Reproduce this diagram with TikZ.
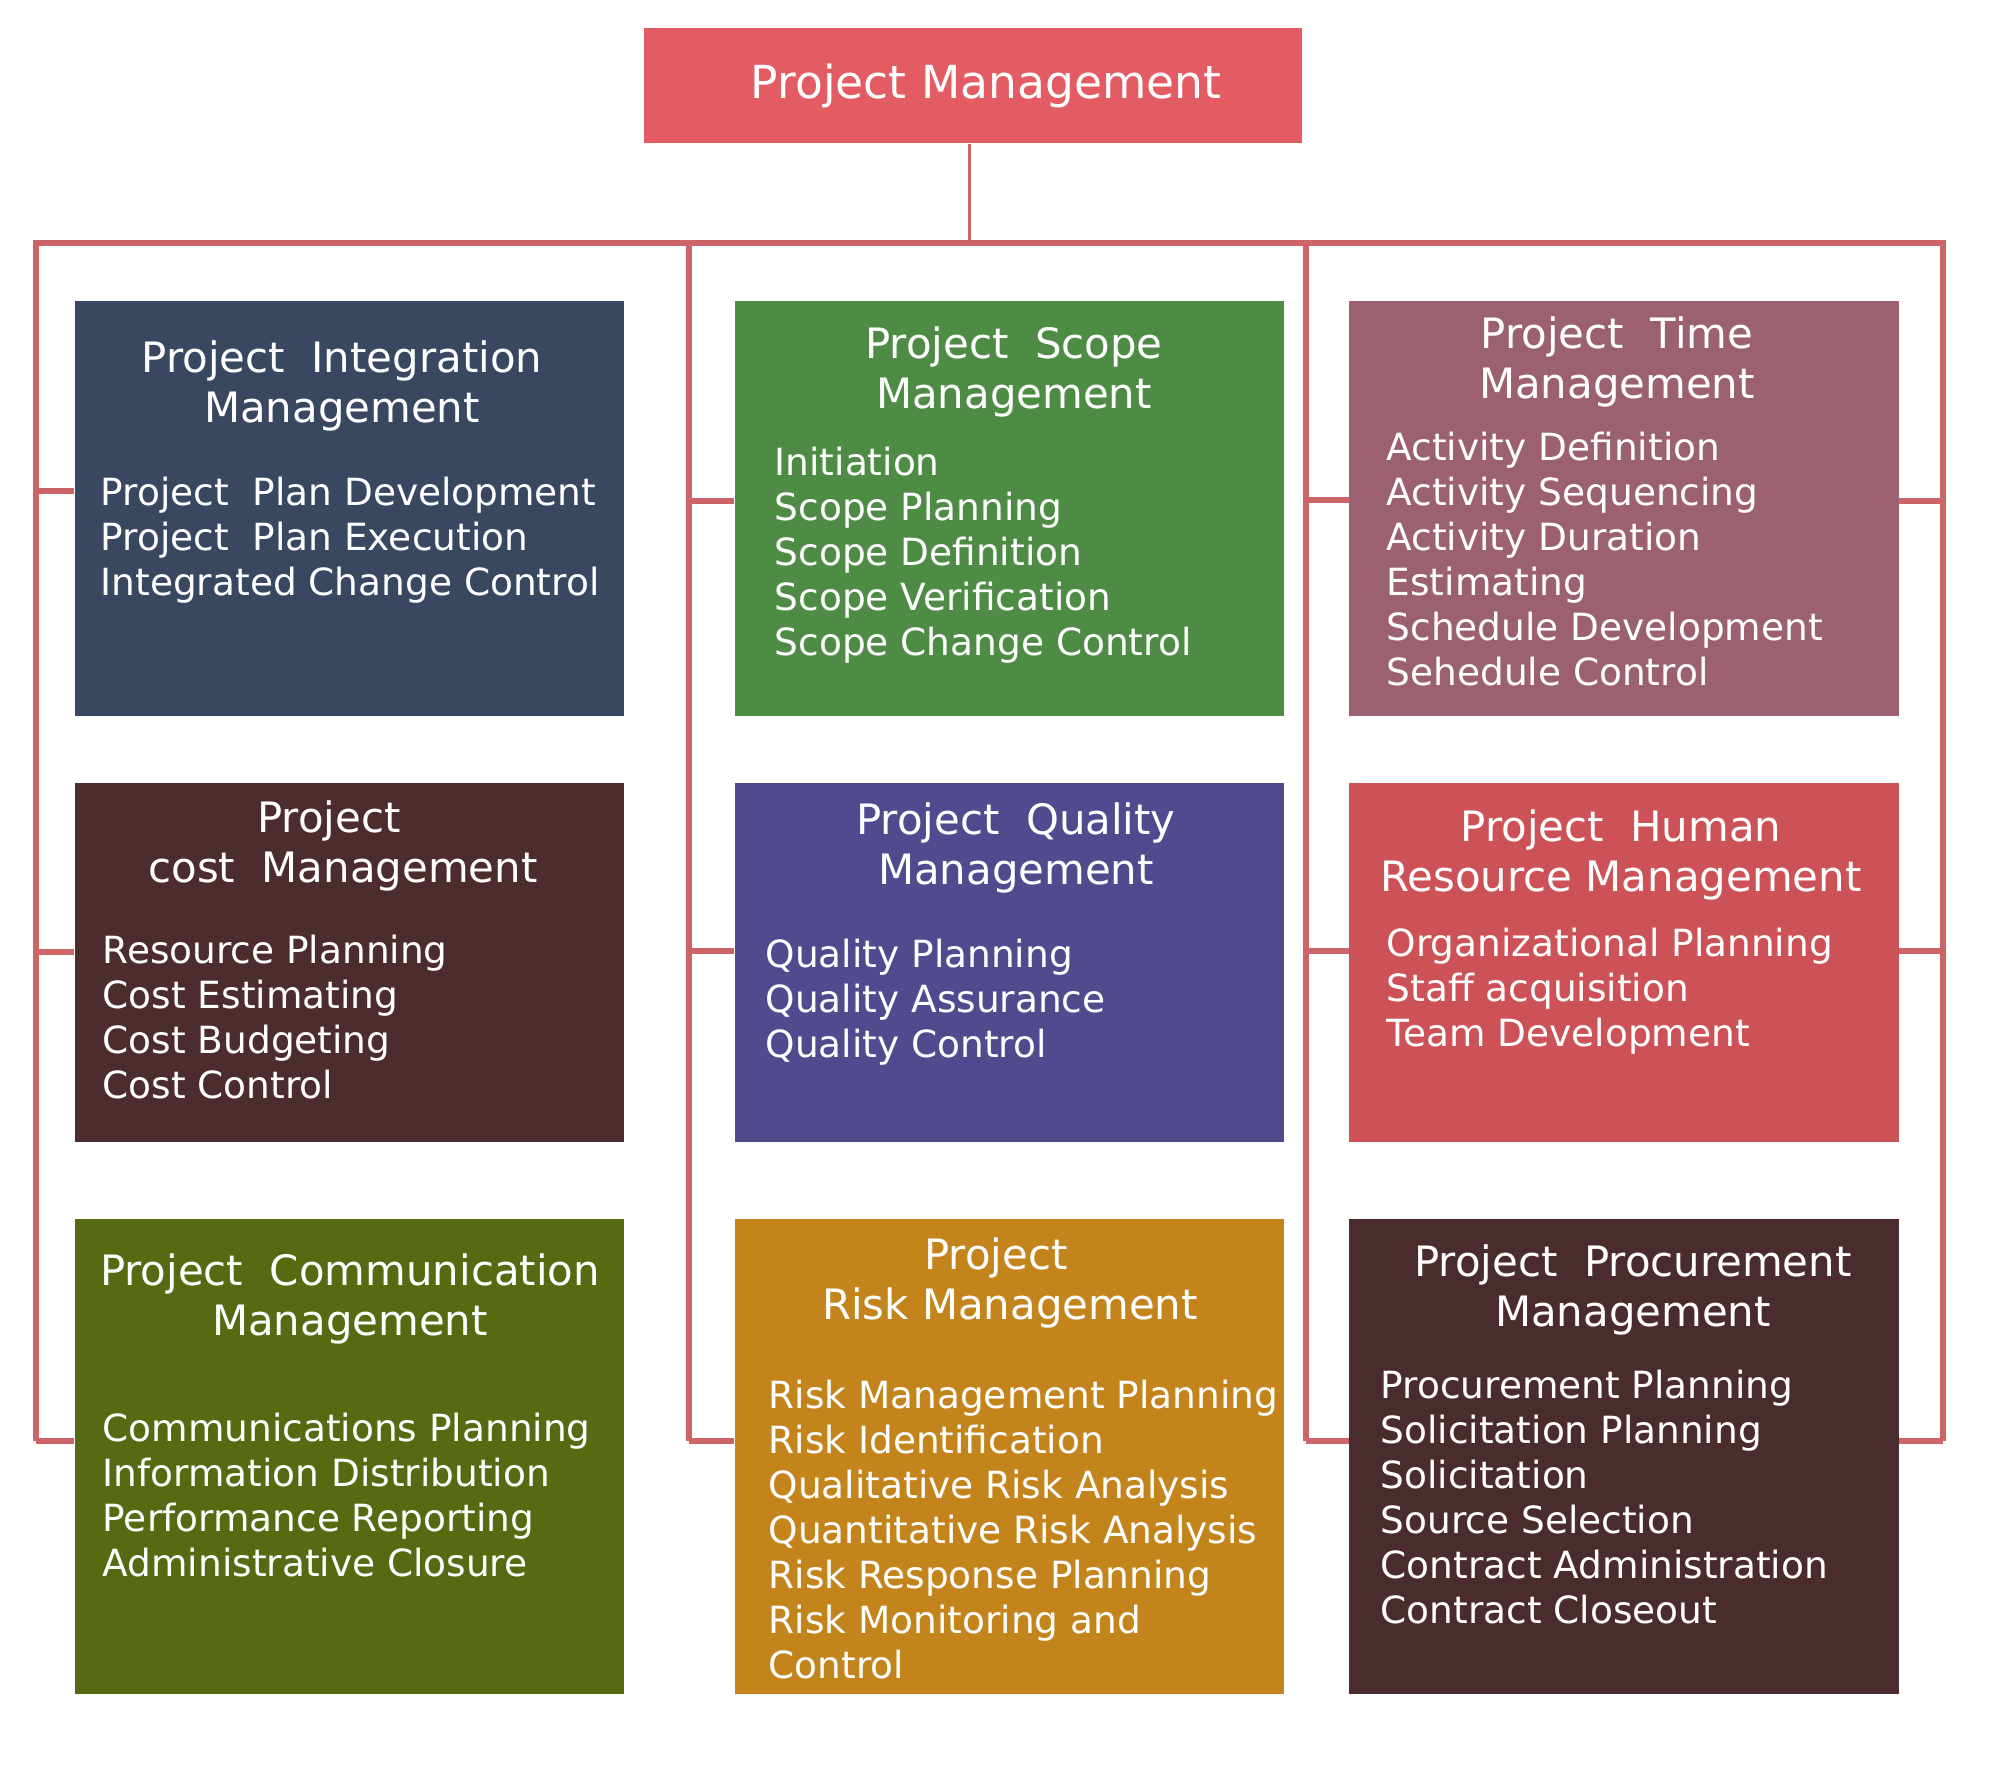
\documentclass[tikz,border=0pt]{standalone}
\usepackage{fontspec}
\setmainfont{DejaVu Sans}
\definecolor{wirered}{RGB}{205,100,104}
\definecolor{pmred}{RGB}{227,91,99}
\definecolor{intblue}{RGB}{58,71,97}
\definecolor{scopegreen}{RGB}{78,140,69}
\definecolor{timemauve}{RGB}{155,97,112}
\definecolor{costbrown}{RGB}{77,44,47}
\definecolor{qualviolet}{RGB}{80,74,143}
\definecolor{hrred}{RGB}{204,82,87}
\definecolor{commolive}{RGB}{86,106,17}
\definecolor{riskochre}{RGB}{196,132,28}
\definecolor{procbrown}{RGB}{74,43,46}
\begin{document}
\begin{tikzpicture}[x=0.01cm, y=-0.01cm,
  wire/.style={draw=wirered, line width=1.7pt},
  box/.style={rectangle, inner sep=0pt, minimum width=5.49cm},
  ttl/.style={text=white, align=center, inner sep=0pt, font=\fontsize{11.9}{14.2}\selectfont},
  lst/.style={text=white, align=left, anchor=north west, inner sep=0pt, font=\fontsize{10.65}{12.8}\selectfont}]
\useasboundingbox (0,0) rectangle (2007,1779);
% top
\node[rectangle, inner sep=0pt, fill=pmred, minimum width=6.58cm, minimum height=1.15cm, text=white, font=\fontsize{12.95}{15}\selectfont] (pm) at (973,85.5){\hspace*{0.26cm}Project Management};
% first row
\node[box, fill=intblue, minimum height=4.15cm] (int) at (349.5,508.5){};
\node[ttl] (int-ttl) at (342,386){Project\ \ Integration\\Management};
\node[lst] (int-lst) at (100,476){Project\ \ Plan Development\\Project\ \ Plan Execution\\Integrated Change Control};
\node[box, fill=scopegreen, minimum height=4.15cm] (scope) at (1009.5,508.5){};
\node[ttl] (scope-ttl) at (1014,372){Project\ \ Scope\\Management};
\node[lst] (scope-lst) at (774,446){Initiation\\Scope Planning\\Scope Definition\\Scope Verification\\Scope Change Control};
\node[box, fill=timemauve, minimum height=4.15cm] (time) at (1624,508.5){};
\node[ttl] (time-ttl) at (1617,362){Project\ \ Time\\Management};
\node[lst] (time-lst) at (1386,431){Activity Definition\\Activity Sequencing\\Activity Duration\\Estimating\\Schedule Development\\Sehedule Control};
% second row
\node[box, fill=costbrown, minimum height=3.59cm] (cost) at (349.5,962.5){};
\node[ttl] (cost-ttl) at (343,846){Project\hspace*{0.28cm}\\cost\ \ Management};
\node[lst] (cost-lst) at (102,934){Resource Planning\\Cost Estimating\\Cost Budgeting\\Cost Control};
\node[box, fill=qualviolet, minimum height=3.59cm] (qual) at (1009.5,962.5){};
\node[ttl] (qual-ttl) at (1016,848){Project\ \ Quality\\Management};
\node[lst] (qual-lst) at (765,938){Quality Planning\\Quality Assurance\\Quality Control};
\node[box, fill=hrred, minimum height=3.59cm] (hr) at (1624,962.5){};
\node[ttl] (hr-ttl) at (1621,855){Project\ \ Human\\Resource Management};
\node[lst] (hr-lst) at (1386,927){Organizational Planning\\Staff acquisition\\Team Development};
% third row
\node[box, fill=commolive, minimum height=4.75cm] (comm) at (349.5,1456.5){};
\node[ttl] (comm-ttl) at (350,1299){Project\ \ Communication\\Management};
\node[lst] (comm-lst) at (102,1412){Communications Planning\\Information Distribution\\Performance Reporting\\Administrative Closure};
\node[box, fill=riskochre, minimum height=4.75cm] (risk) at (1009.5,1456.5){};
\node[ttl] (risk-ttl) at (1010,1283){Project\hspace*{0.28cm}\\Risk Management};
\node[lst] (risk-lst) at (768,1379){Risk Management Planning\\Risk Identification\\Qualitative Risk Analysis\\Quantitative Risk Analysis\\Risk Response Planning\\Risk Monitoring and\\Control};
\node[box, fill=procbrown, minimum height=4.75cm] (proc) at (1624,1456.5){};
\node[ttl] (proc-ttl) at (1633,1290){Project\ \ Procurement\\Management};
\node[lst] (proc-lst) at (1380,1369){Procurement Planning\\Solicitation Planning\\Solicitation\\Source Selection\\Contract Administration\\Contract Closeout};
% bus
\coordinate (tj) at (969,243);
\coordinate (lt) at (36,243);
\coordinate (lb) at (36,1441);
\coordinate (rt) at (1943,243);
\coordinate (rb) at (1943,1441);
\coordinate (m1t) at (689,243);
\coordinate (m1b) at (689,1441);
\coordinate (m2t) at (1306,243);
\coordinate (m2b) at (1306,1441);
\draw[wire, line width=0.85pt](tj |- pm.south) -- (tj);
\draw[wire](lb) -- (lt) -- (rt) -- (rb);
\draw[wire](m1t) -- (m1b);
\draw[wire](m2t) -- (m2b);
% stubs
\coordinate (a1) at (36,491);
\coordinate (a2) at (36,952);
\draw[wire](a1) -- (a1 -| int.west);
\draw[wire](a2) -- (a2 -| cost.west);
\draw[wire](lb) -- (lb -| comm.west);
\coordinate (b1) at (689,501);
\coordinate (b2) at (689,951);
\draw[wire](b1) -- (b1 -| scope.west);
\draw[wire](b2) -- (b2 -| qual.west);
\draw[wire](m1b) -- (m1b -| risk.west);
\coordinate (c1) at (1306,500);
\coordinate (c2) at (1306,951);
\draw[wire](c1) -- (c1 -| time.west);
\draw[wire](c2) -- (c2 -| hr.west);
\draw[wire](m2b) -- (m2b -| proc.west);
\coordinate (d1) at (1943,501);
\coordinate (d2) at (1943,951);
\draw[wire](d1) -- (d1 -| time.east);
\draw[wire](d2) -- (d2 -| hr.east);
\draw[wire](rb) -- (rb -| proc.east);
\end{tikzpicture}
\end{document}
